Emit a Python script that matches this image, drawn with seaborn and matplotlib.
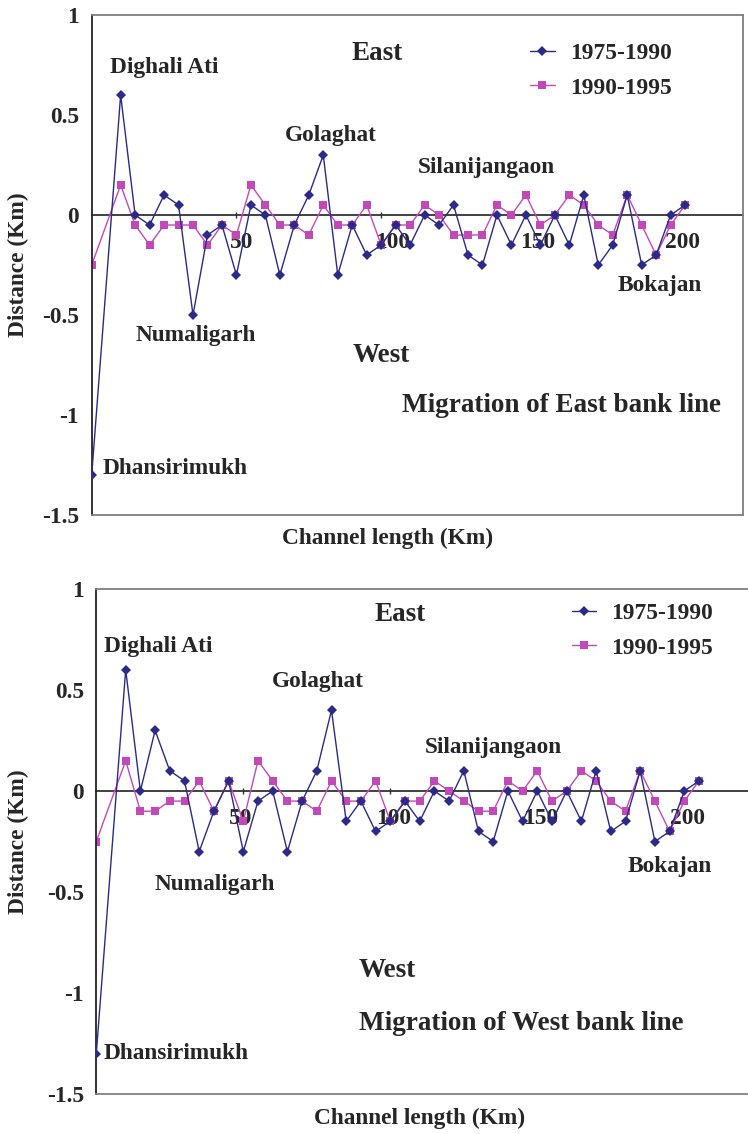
import matplotlib
matplotlib.use("Agg")
import matplotlib.pyplot as plt
import matplotlib.transforms as mtransforms
import seaborn as sns
import pandas as pd

# ---------------- data ----------------
channel_km = [0, 10, 15, 20, 25, 30, 35, 40, 45, 50,
              55, 60, 65, 70, 75, 80, 85, 90, 95, 100,
              105, 110, 115, 120, 125, 130, 135, 140, 145, 150,
              155, 160, 165, 170, 175, 180, 185, 190, 195, 200,
              205]

east_1975_1990 = [-1.3, 0.6, 0, -0.05, 0.1, 0.05, -0.5, -0.1, -0.05, -0.3,
                  0.05, 0, -0.3, -0.05, 0.1, 0.3, -0.3, -0.05, -0.2, -0.15,
                  -0.05, -0.15, 0, -0.05, 0.05, -0.2, -0.25, 0, -0.15, 0,
                  -0.15, 0, -0.15, 0.1, -0.25, -0.15, 0.1, -0.25, -0.2, 0,
                  0.05]
east_1990_1995 = [-0.25, 0.15, -0.05, -0.15, -0.05, -0.05, -0.05, -0.15, -0.05, -0.1,
                  0.15, 0.05, -0.05, -0.05, -0.1, 0.05, -0.05, -0.05, 0.05, -0.15,
                  -0.05, -0.05, 0.05, 0, -0.1, -0.1, -0.1, 0.05, 0, 0.1,
                  -0.05, 0, 0.1, 0.05, -0.05, -0.1, 0.1, -0.05, -0.2, -0.05,
                  0.05]

west_1975_1990 = [-1.3, 0.6, 0, 0.3, 0.1, 0.05, -0.3, -0.1, 0.05, -0.3,
                  -0.05, 0, -0.3, -0.05, 0.1, 0.4, -0.15, -0.05, -0.2, -0.15,
                  -0.05, -0.15, 0, -0.05, 0.1, -0.2, -0.25, 0, -0.15, 0,
                  -0.15, 0, -0.15, 0.1, -0.2, -0.15, 0.1, -0.25, -0.2, 0,
                  0.05]
west_1990_1995 = [-0.25, 0.15, -0.1, -0.1, -0.05, -0.05, 0.05, -0.1, 0.05, -0.15,
                  0.15, 0.05, -0.05, -0.05, -0.1, 0.05, -0.05, -0.05, 0.05, -0.15,
                  -0.05, -0.05, 0.05, 0, -0.05, -0.1, -0.1, 0.05, 0, 0.1,
                  -0.05, 0, 0.1, 0.05, -0.05, -0.1, 0.1, -0.05, -0.2, -0.05,
                  0.05]

series_names = ["1975-1990", "1990-1995"]
x_ticks = [50, 100, 150, 200]
x_tick_labels = ["50", "100", "150", "200"]
y_ticks = [1, 0.5, 0, -0.5, -1, -1.5]
y_tick_labels = ["1", "0.5", "0", "-0.5", "-1", "-1.5"]

BLUE = "#2C2A88"
PINK = "#C449B8"
GRAY = "#7f7f7f"

sns.set_style("white")
plt.rcParams["font.family"] = ["Liberation Serif", "DejaVu Serif"]
plt.rcParams["font.weight"] = "bold"
plt.rcParams["axes.unicode_minus"] = False

FS = 16.8
FS_BIG = 19.5


def draw_panel(fig, ax, s1, s2, labels, legend_anchor, xlabel_xy, ylabel_x, xlab_shift):
    df = pd.DataFrame({"km": channel_km * 2,
                       "dist": s1 + s2,
                       "period": [series_names[0]] * len(channel_km) + [series_names[1]] * len(channel_km)})
    sns.lineplot(data=df[df.period == series_names[0]], x="km", y="dist", ax=ax,
                 color=BLUE, lw=1.0, marker="D", markersize=4.6, markeredgewidth=0,
                 label=series_names[0], zorder=3)
    sns.lineplot(data=df[df.period == series_names[1]], x="km", y="dist", ax=ax,
                 color=PINK, lw=1.0, marker="s", markersize=5.8, markeredgewidth=0,
                 label=series_names[1], zorder=2)
    ax.set_xlim(0, 225)
    ax.set_ylim(-1.5, 1)

    # frame
    for side in ["top", "right", "bottom"]:
        ax.spines[side].set_color(GRAY)
        ax.spines[side].set_linewidth(1.3)
    ax.spines["left"].set_color("#222222")
    ax.spines["left"].set_linewidth(1.3)

    ax.set_xticks([])
    ax.set_yticks(y_ticks)
    ax.set_yticklabels(y_tick_labels, fontsize=FS, fontweight="bold")
    ax.tick_params(axis="y", direction="out", length=5, width=1.1, pad=4, color="#222222")

    # zero line with channel-length ticks
    sec = ax.secondary_xaxis(0.6)
    sec.set_alignment("bottom")
    sec.spines["bottom"].set_color("#333333")
    sec.spines["bottom"].set_linewidth(1.3)
    sec.set_xticks(x_ticks)
    sec.set_xticklabels(x_tick_labels, fontsize=FS, fontweight="bold", ha="left")
    sec.tick_params(axis="x", direction="inout", length=5, width=1.0, pad=10, color="#333333")
    offset = mtransforms.ScaledTranslation(xlab_shift / 100.0, 0, fig.dpi_scale_trans)
    for lab in sec.get_xticklabels():
        lab.set_transform(lab.get_transform() + offset)

    ax.set_xlabel("Channel length (Km)", fontsize=FS, fontweight="bold", va="center")
    ax.xaxis.set_label_coords(*xlabel_xy)
    ax.set_ylabel("Distance (Km)", fontsize=FS, fontweight="bold", va="center")
    ax.yaxis.set_label_coords(ylabel_x, 0.5)

    for txt, x, y, fs in labels:
        ax.text(x, y, txt, fontsize=fs, fontweight="bold", ha="center", va="center", zorder=4)

    leg = ax.legend(loc="upper left", bbox_to_anchor=legend_anchor, frameon=False,
                    fontsize=FS, handlelength=1.05, handletextpad=0.65,
                    labelspacing=0.55, borderpad=0, borderaxespad=0)
    for t in leg.get_texts():
        t.set_fontweight("bold")


fig = plt.figure(figsize=(7.48, 11.34), dpi=100)
ax1 = fig.add_axes([91.7 / 748, 1 - 515 / 1134, 651.3 / 748, 500 / 1134])
ax2 = fig.add_axes([96.3 / 748, 1 - 1094 / 1134, 661.5 / 748, 505 / 1134])

draw_panel(fig, ax1, east_1975_1990, east_1990_1995,
           [("Dighali Ati", 24.9, 0.735, FS),
            ("East", 98.7, 0.81, FS_BIG),
            ("Golaghat", 82.6, 0.40, FS),
            ("Silanijangaon", 136.3, 0.235, FS),
            ("Numaligarh", 36.0, -0.60, FS),
            ("Bokajan", 196.3, -0.355, FS),
            ("West", 100.1, -0.70, FS_BIG),
            ("Migration of East bank line", 162.2, -0.95, FS_BIG),
            ("Dhansirimukh", 28.7, -1.265, FS)],
           (0.673, 0.944), ((388 - 91.7) / 651.3, -(538 - 515) / 500), -(91.7 - 18) / 651.3, -6)

draw_panel(fig, ax2, west_1975_1990, west_1990_1995,
           [("Dighali Ati", 21.0, 0.716, FS),
            ("East", 103.3, 0.876, FS_BIG),
            ("Golaghat", 75.4, 0.542, FS),
            ("Silanijangaon", 135.0, 0.214, FS),
            ("Numaligarh", 40.4, -0.463, FS),
            ("Bokajan", 195.0, -0.373, FS),
            ("West", 98.8, -0.89, FS_BIG),
            ("Migration of West bank line", 144.4, -1.15, FS_BIG),
            ("Dhansirimukh", 27.0, -1.30, FS)],
           (0.719, 0.972), ((420 - 96.3) / 661.5, -(1118 - 1094) / 505), -(96.3 - 18) / 661.5, -14)

fig.savefig("out.png", dpi=100)
